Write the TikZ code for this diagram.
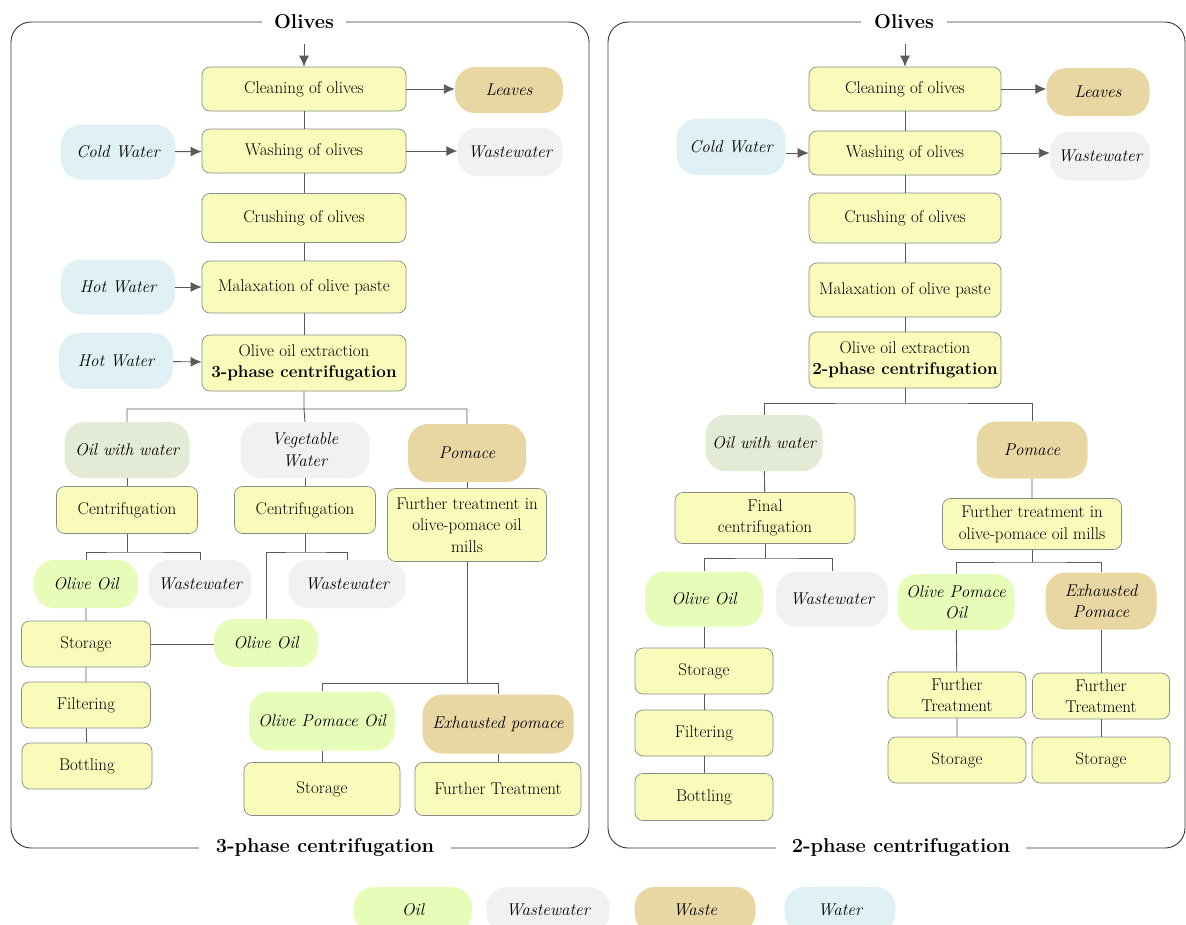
\documentclass[tikz,border=0pt]{standalone}
\usetikzlibrary{arrows.meta}
\definecolor{procY}{HTML}{F8FBBA}
\definecolor{boxgray}{HTML}{8A8A8A}
\definecolor{oilC}{HTML}{E8FCBA}
\definecolor{owwC}{HTML}{E3EAD5}
\definecolor{wwC}{HTML}{F1F1F1}
\definecolor{wasteC}{HTML}{E8D6A3}
\definecolor{waterC}{HTML}{E0F1F5}
\definecolor{lineC}{HTML}{5A5A5A}
\newcommand\bodyfs{\fontsize{17}{21.5}\selectfont}
\newcommand\titlefs{\fontsize{20}{25}\selectfont\bfseries}
\tikzset{
  base/.style={align=center, inner sep=2pt, font=\bodyfs},
  proc/.style={base, draw=boxgray, fill=procY, rounded corners=8pt, line width=0.7pt},
  pill/.style={base, rounded corners=20pt, font=\bodyfs\itshape},
  oil/.style={pill, fill=oilC},
  oww/.style={pill, fill=owwC},
  wwst/.style={pill, fill=wwC},
  waste/.style={pill, fill=wasteC},
  water/.style={pill, fill=waterC},
  sz/.style n args={2}{minimum width=#1pt, minimum height=#2pt},
  ln/.style={draw=lineC, line width=0.9pt},
  arr/.style={ln, -{Latex[length=11pt,width=10pt]}},
  frame/.style={draw=black!80, line width=0.9pt, rounded corners=20pt},
  ttl/.style={font=\titlefs, fill=white, inner ysep=2pt},
}
\begin{document}
\begin{tikzpicture}[x=1pt, y=-1pt]
\useasboundingbox (0,0) rectangle (1186,924);
% frames
\draw[frame] (11,22) rectangle (589,848);
\draw[frame] (608,22) rectangle (1185,848);
\node[ttl, inner xsep=12pt] (tL) at (304,22) {Olives};
\node[ttl, inner xsep=17pt] (bL) at (325,847) {3-phase centrifugation};
\node[ttl, inner xsep=13pt] (tR) at (904,22) {Olives};
\node[ttl, inner xsep=16pt] (bR) at (901,847) {2-phase centrifugation};

% ---------- left panel ----------
\node[proc, sz={204}{44}] (clean) at (304,89) {Cleaning of olives};
\node[waste, sz={108}{46}] (leaves) at (509,90) {Leaves};
\node[water, sz={114}{55}] (cold) at (118,152) {Cold Water};
\node[proc, sz={204}{44}] (wash) at (304,151) {Washing of olives};
\node[wwst, sz={105}{48}] (ww1) at (510,152) {Wastewater};
\node[proc, sz={204}{49}] (crush) at (304,218) {Crushing of olives};
\node[water, sz={114}{55}] (hot1) at (118,287) {Hot Water};
\node[proc, sz={204}{52}] (malax) at (304,287) {Malaxation of olive paste};
\node[water, sz={114}{56}] (hot2) at (116,361) {Hot Water};
\node[proc, sz={204}{56}] (extr) at (304,363) {Olive oil extraction\\\textbf{3-phase centrifugation}};
\node[oww, sz={125}{56}] (owwL) at (127,450) {Oil with water};
\node[wwst, sz={129}{56}] (veg) at (305,450) {Vegetable\\Water};
\node[waste, sz={118}{58}] (pom) at (467,453) {Pomace};
\node[proc, sz={141}{47}] (cen1) at (127,510) {Centrifugation};
\node[proc, sz={141}{47}] (cen2) at (305,510) {Centrifugation};
\node[proc, sz={159}{73}] (ftr) at (467,525) {Further treatment in\\olive-pomace oil\\mills};
\node[oil, sz={104}{48}] (oo1) at (86,584) {Olive Oil};
\node[wwst, sz={103}{48}] (ww2) at (200,584) {Wastewater};
\node[wwst, sz={117}{48}] (ww3) at (347,584) {Wastewater};
\node[oil, sz={104}{48}] (oo2) at (266,643) {Olive Oil};
\node[proc, sz={129}{46}] (sto1) at (86,644) {Storage};
\node[proc, sz={129}{46}] (fil) at (86,705) {Filtering};
\node[proc, sz={130}{46}] (bot) at (87,766) {Bottling};
\node[oil, sz={146}{59}] (opo) at (322,721) {Olive Pomace Oil};
\node[waste, sz={151}{59}] (exh) at (498,724) {Exhausted pomace};
\node[proc, sz={156}{53}] (sto2) at (322,789) {Storage};
\node[proc, sz={166}{53}] (ftrL) at (498,789) {Further Treatment};

\coordinate (inL) at (304,44);
\coordinate (brL) at (304,409);
\coordinate (br1) at (127,552);
\coordinate (br2) at (305,552);
\coordinate (br3) at (467,683);

\draw[arr] (inL) -- (clean);
\draw[arr] (clean) -- (clean -| leaves.west);
\draw[arr] (cold) -- (wash);
\draw[arr] (wash) -- (wash -| ww1.west);
\draw[arr] (hot1) -- (malax);
\draw[arr] (hot2) -- (extr);
\draw[ln] (clean) -- (wash) (wash) -- (crush) (crush) -- (malax) (malax) -- (extr);
\draw[ln] (extr) -- (brL) (owwL.north) |- (brL) -| (pom.north) (brL) -- (veg.north);
\draw[ln] (owwL) -- (cen1) (veg) -- (cen2) (pom) -- (ftr);
\draw[ln] (cen1) -- (br1) (oo1.north) |- (br1) -| (ww2.north);
\draw[ln] (cen2) -- (br2) (oo2.north) |- (br2) -| (ww3.north);
\draw[ln] (oo1) -- (sto1) (sto1) -- (fil) (fil) -- (bot);
\draw[ln] (sto1.east) -- (sto1.east -| oo2.west);
\draw[ln] (ftr) -- (br3) (opo.north) |- (br3) -| (exh.north);
\draw[ln] (opo) -- (sto2) (exh) -- (ftrL);

% ---------- right panel ----------
\node[proc, sz={192}{44}] (clean2) at (905,89) {Cleaning of olives};
\node[waste, sz={103}{48}] (leaves2) at (1098,92) {Leaves};
\node[water, sz={109}{56}] (cold2) at (731,147) {Cold Water};
\node[proc, sz={192}{44}] (wash2) at (905,153) {Washing of olives};
\node[wwst, sz={100}{49}] (ww5) at (1100,156) {Wastewater};
\node[proc, sz={192}{50}] (crush2) at (905,218) {Crushing of olives};
\node[proc, sz={192}{54}] (malax2) at (905,290) {Malaxation of olive paste};
\node[proc, sz={192}{56}] (extr2) at (905,360) {Olive oil extraction\\\textbf{2-phase centrifugation}};
\node[oww, sz={117}{56}] (owwR) at (764,443) {Oil with water};
\node[waste, sz={111}{57}] (pom2) at (1032,450) {Pomace};
\node[proc, sz={180}{51}] (fcen) at (765,518) {Final\\centrifugation};
\node[proc, sz={179}{51}] (ftr2) at (1032,524) {Further treatment in\\olive-pomace oil mills};
\node[oil, sz={118}{55}] (oo3) at (704,599) {Olive Oil};
\node[wwst, sz={112}{55}] (ww4) at (832,599) {Wastewater};
\node[oil, sz={117}{56}] (opo2) at (956,602) {Olive Pomace\\Oil};
\node[waste, sz={111}{57}] (exh2) at (1101,601) {Exhausted\\Pomace};
\node[proc, sz={138}{46}] (sto3) at (704,671) {Storage};
\node[proc, sz={138}{46}] (fil2) at (704,733) {Filtering};
\node[proc, sz={138}{47}] (bot2) at (704,797) {Bottling};
\node[proc, sz={138}{46}] (ft1) at (957,695) {Further\\Treatment};
\node[proc, sz={137}{46}] (ft2) at (1101,696) {Further\\Treatment};
\node[proc, sz={138}{46}] (sto4) at (957,760) {Storage};
\node[proc, sz={138}{46}] (sto5) at (1101,760) {Storage};

\coordinate (inR) at (905,44);
\coordinate (brR) at (905,403);
\coordinate (br4) at (765,558);
\coordinate (br5) at (1032,562);

\draw[arr] (inR) -- (clean2);
\draw[arr] (clean2) -- (clean2 -| leaves2.west);
\draw[arr] (cold2.east |- wash2) -- (wash2);
\draw[arr] (wash2) -- (wash2 -| ww5.west);
\draw[ln] (clean2) -- (wash2) (wash2) -- (crush2) (crush2) -- (malax2) (malax2) -- (extr2);
\draw[ln] (extr2) -- (brR) (owwR.north) |- (brR) -| (pom2.north);
\draw[ln] (owwR) -- (fcen) (pom2) -- (ftr2);
\draw[ln] (fcen) -- (br4) (oo3.north) |- (br4) -| (ww4.north);
\draw[ln] (ftr2) -- (br5) (opo2.north) |- (br5) -| (exh2.north);
\draw[ln] (oo3) -- (sto3) (sto3) -- (fil2) (fil2) -- (bot2);
\draw[ln] (opo2) -- (ft1) (ft1) -- (sto4);
\draw[ln] (exh2) -- (ft2) (ft2) -- (sto5);

% ---------- legend ----------
\node[oil, sz={118}{46}] (lgOil) at (413,910) {Oil};
\node[wwst, sz={123}{46}] (lgWW) at (548,910) {Wastewater};
\node[waste, sz={121}{46}] (lgWaste) at (695,910) {Waste};
\node[water, sz={111}{46}] (lgWater) at (840,910) {Water};
\end{tikzpicture}
\end{document}
